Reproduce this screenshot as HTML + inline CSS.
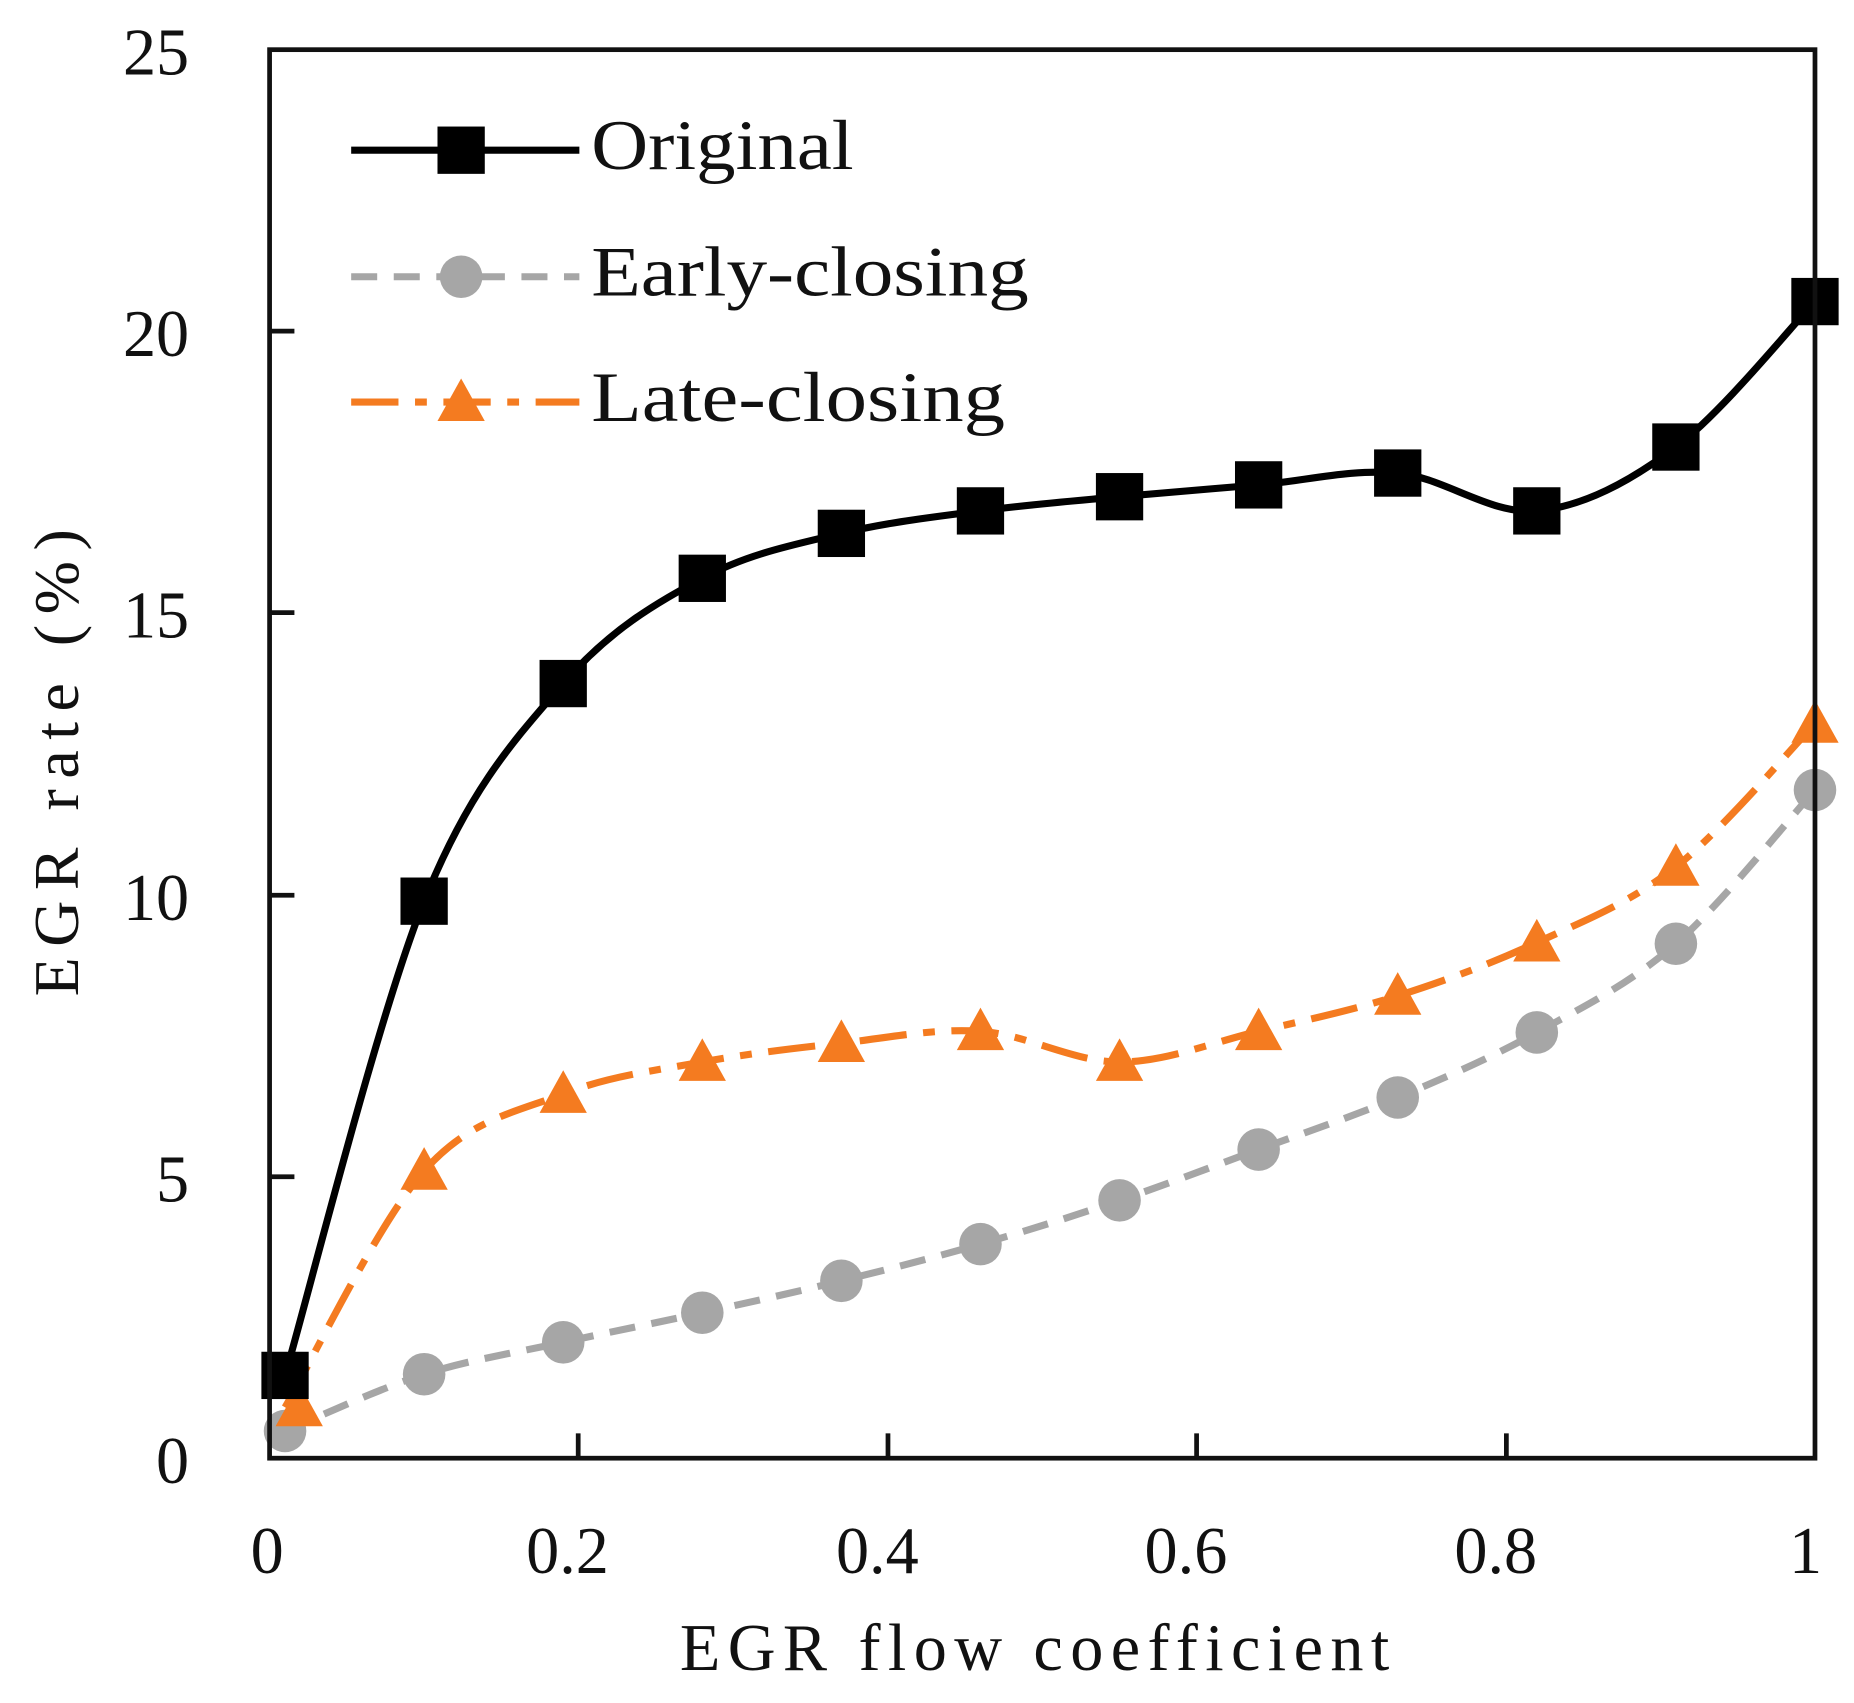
<!DOCTYPE html>
<html><head><meta charset="utf-8"><style>
html,body{margin:0;padding:0;background:#fff;}
svg{display:block;}
text{font-family:"Liberation Serif",serif;fill:#111;}
</style></head><body>
<svg id="s" width="1854" height="1703" viewBox="0 0 1568 1440" preserveAspectRatio="none" xmlns="http://www.w3.org/2000/svg">
<rect x="0" y="0" width="1568" height="1440" fill="#fff"/>
<g id="series"></g>
<rect x="228" y="42" width="1307" height="1191" fill="none" stroke="#111" stroke-width="4"/>
<g stroke="#111" stroke-width="4">
<line x1="489" y1="1233" x2="489" y2="1212"/><line x1="751" y1="1233" x2="751" y2="1212"/>
<line x1="1012" y1="1233" x2="1012" y2="1212"/><line x1="1274" y1="1233" x2="1274" y2="1212"/>
<line x1="228" y1="995" x2="249" y2="995"/><line x1="228" y1="757" x2="249" y2="757"/>
<line x1="228" y1="518" x2="249" y2="518"/><line x1="228" y1="280" x2="249" y2="280"/>
</g>
<g font-size="56" text-anchor="end">
<text x="160" y="1254">0</text><text x="160" y="1016">5</text><text x="160" y="778">10</text>
<text x="160" y="539">15</text><text x="160" y="301">20</text><text x="160" y="63">25</text>
</g>
<g font-size="56" text-anchor="middle">
<text x="226" y="1330">0</text><text x="480" y="1330">0.2</text><text x="742" y="1330">0.4</text>
<text x="1003" y="1330">0.6</text><text x="1265" y="1330">0.8</text><text x="1527" y="1330">1</text>
</g>
<text x="575" y="1412" font-size="56" textLength="600" lengthAdjust="spacing">EGR  flow  coefficient</text>
<text transform="translate(66,645) rotate(-90)" font-size="54" text-anchor="middle" textLength="395" lengthAdjust="spacing">EGR rate (%)</text>
<g id="legend"></g>
<g font-size="60">
<text x="500" y="143" textLength="222" lengthAdjust="spacingAndGlyphs">Original</text>
<text x="500" y="250" textLength="370" lengthAdjust="spacingAndGlyphs">Early-closing</text>
<text x="500" y="356" textLength="350" lengthAdjust="spacingAndGlyphs">Late-closing</text>
</g>
</svg>
<script>
const X=v=>228+v*1307;
const xs=[0.01,0.1,0.19,0.28,0.37,0.46,0.55,0.64,0.73,0.82,0.91,1.0];
const orig=[1163,762,578,489,451,432,420,410,400,432,378,255];
const early=[1210,1162,1135,1110,1083,1052,1015,972,928,873,798,668];
const late=[1190,990,925,898,882,872,898,872,842,797,733,612];
function path(ys){const p=xs.map((x,i)=>[X(x),ys[i]]);let d=`M${p[0][0]},${p[0][1]}`;
for(let i=0;i<p.length-1;i++){const p0=p[i-1]||p[i],p1=p[i],p2=p[i+1],p3=p[i+2]||p2;const t=0.5/3*1.0;
d+=` C${p1[0]+(p2[0]-p0[0])*t},${p1[1]+(p2[1]-p0[1])*t} ${p2[0]-(p3[0]-p1[0])*t},${p2[1]-(p3[1]-p1[1])*t} ${p2[0]},${p2[1]}`;}return d;}
const NS="http://www.w3.org/2000/svg";
function el(t,a,g){const e=document.createElementNS(NS,t);for(const k in a)e.setAttribute(k,a[k]);g.appendChild(e);return e;}
const g=document.getElementById('series');
const L=document.getElementById('legend');
const sq=(x,y,G)=>el('rect',{x:x-20,y:y-20,width:40,height:40,fill:'#000'},G);
const ci=(x,y,G)=>el('circle',{cx:x,cy:y,r:18,fill:'#a6a6a6'},G);
const tr=(x,y,G)=>el('polygon',{points:`${x},${y-20} ${x-20},${y+16} ${x+20},${y+16}`,fill:'#f47b20'},G);
el('path',{d:path(early),fill:'none',stroke:'#a6a6a6','stroke-width':6,'stroke-dasharray':'22 14'},g);
el('path',{d:path(late),fill:'none',stroke:'#f47b20','stroke-width':6,'stroke-dasharray':'40 14 10 14'},g);
el('path',{d:path(orig),fill:'none',stroke:'#000','stroke-width':6},g);
xs.forEach((x,i)=>{ci(X(x),early[i],g);});
xs.forEach((x,i)=>{tr(X(x)+(i==0?12:0),late[i],g);});
xs.forEach((x,i)=>{sq(X(x),orig[i],g);});
el('line',{x1:297,y1:127,x2:490,y2:127,stroke:'#000','stroke-width':6},L);sq(390,127,L);
el('line',{x1:297,y1:234,x2:490,y2:234,stroke:'#a6a6a6','stroke-width':6,'stroke-dasharray':'22 14'},L);ci(390,234,L);
el('line',{x1:297,y1:340,x2:490,y2:340,stroke:'#f47b20','stroke-width':6,'stroke-dasharray':'40 14 10 14'},L);tr(390,340,L);
</script>
</body></html>
